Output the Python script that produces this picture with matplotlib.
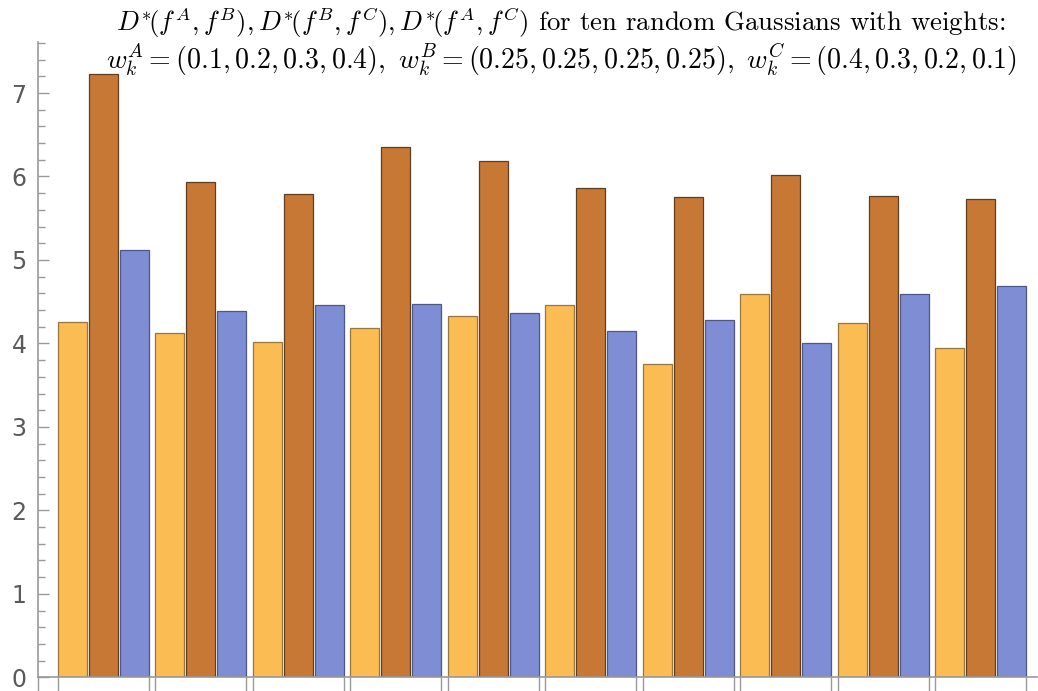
import matplotlib
matplotlib.use("Agg")
import matplotlib.pyplot as plt
import numpy as np

plt.rcParams['mathtext.fontset'] = 'cm'

groups = list(range(1, 11))
d_ab = [4.26, 4.12, 4.02, 4.19, 4.33, 4.46, 3.75, 4.59, 4.25, 3.95]
d_bc = [7.23, 5.93, 5.79, 6.35, 6.18, 5.86, 5.76, 6.02, 5.77, 5.73]
d_ac = [5.12, 4.39, 4.46, 4.47, 4.37, 4.15, 4.28, 4.01, 4.59, 4.69]
yticks = [0, 1, 2, 3, 4, 5, 6, 7]

fill_colors = ['#FBBC53', '#C77834', '#7F8ED4']
edge_colors = ['#96773F', '#5E3D20', '#4D5788']

fig = plt.figure(figsize=(10.38, 6.91), dpi=100)
ax = fig.add_axes([0.0363, 0.0198, 0.9627, 0.9199])

x = np.arange(len(groups))
step = 0.319
width = 0.297
for k, (vals, fc, ec) in enumerate(zip([d_ab, d_bc, d_ac], fill_colors, edge_colors)):
    ax.bar(x + (k - 1) * step, vals, width=width, color=fc, edgecolor=ec,
           linewidth=0.9, zorder=2)

half = step + width / 2
ax.set_xlim(-0.672, 9.577)
ax.set_ylim(0, 7.615)

xt = [-0.672]
for i in x:
    xt += [i - half, i + half]
ax.set_xticks(xt)
ax.set_xticklabels([])
ax.tick_params(axis='x', direction='out', length=10.5, width=1.0, color='#999999')

ax.set_yticks(yticks)
ax.set_yticks(np.arange(0, 7.61, 0.2), minor=True)
ax.tick_params(axis='y', which='major', direction='in', length=8, width=1.0,
               color='#999999', labelsize=17, labelcolor='#5a5a5a', pad=8)
ax.tick_params(axis='y', which='minor', direction='in', length=4.8, width=1.0,
               color='#999999')

for s in ['top', 'right']:
    ax.spines[s].set_visible(False)
for s in ['left', 'bottom']:
    ax.spines[s].set_color('#999999')
    ax.spines[s].set_linewidth(1.2)

line1 = (r"$D^{*}\!(f^A,f^B),D^{*}\!(f^B,f^C),D^{*}\!(f^A,f^C)$"
         r" for ten random Gaussians with weights:")
line2 = (r"$w_k^A=(0.1,0.2,0.3,0.4),\ w_k^B=(0.25,0.25,0.25,0.25),\ "
         r"w_k^C=(0.4,0.3,0.2,0.1)$")
fig.text(0.540, 0.967, line1, ha='center', va='center', fontsize=19.3,
         family='cmr10')
fig.text(0.541, 0.914, line2, ha='center', va='center', fontsize=20.1)

fig.savefig("out.png", dpi=100)
